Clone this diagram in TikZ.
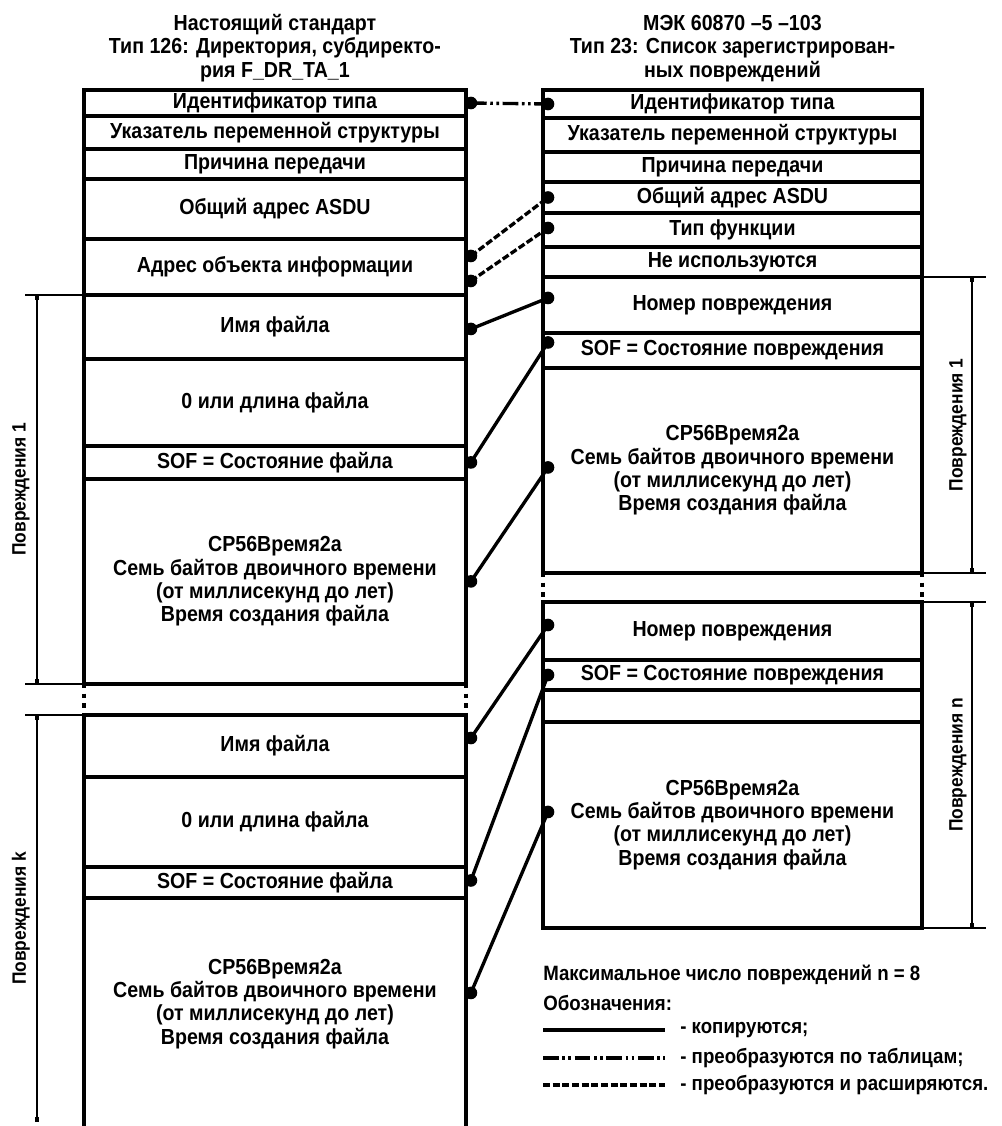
\documentclass[tikz,border=0pt]{standalone}
\usepackage{fontspec}
\setmainfont{Liberation Sans}[FakeStretch=0.9]
\usetikzlibrary{arrows.meta, positioning, calc}

\begin{document}
\begin{tikzpicture}[
            x=0.02cm, y=-0.02cm,
            font=\fontsize{12.4}{13.3}\selectfont\bfseries,
            cell/.style   ={draw, line width=2pt, anchor=north west, inner sep=1pt,
                            outer sep=0pt, align=center},
            lcell/.style  ={cell, minimum width=7.64cm},
            rcell/.style  ={cell, minimum width=7.58cm},
            head/.style   ={align=center, anchor=south, inner sep=0pt},
            link/.style   ={line width=1.9pt},
            tabl/.style   ={link, dash pattern=on 9pt off 2pt on 1.5pt off 2pt on 1.5pt off 2pt},
            wide/.style   ={link, dash pattern=on 4pt off 1.5pt},
            jdot/.style   ={fill=black},
            extln/.style  ={line width=1.2pt},
            dimln/.style  ={line width=1.2pt, {Square[length=3pt,width=2.6pt]}-{Square[length=3pt,width=2.6pt]}},
            dimlbl/.style ={rotate=90, inner sep=0pt, font=\fontsize{11}{12}\selectfont\bfseries},
            gapln/.style  ={line width=2pt, dash pattern=on 2.5pt off 3pt},
            legtxt/.style ={anchor=west, inner sep=0pt, font=\fontsize{11.8}{13}\selectfont\bfseries}
        ]
        \useasboundingbox (0,0) rectangle (1001,1126);

        % left column: F_DR_TA_1
        \node[lcell, minimum height=0.52cm] (L1) at (84,90) {Идентификатор типа};
        \node[lcell, minimum height=0.66cm] (L2) at (L1.south west) {Указатель переменной структуры};
        \node[lcell, minimum height=0.60cm] (L3) at (L2.south west) {Причина передачи};
        \node[lcell, minimum height=1.20cm] (L4) at (L3.south west) {Общий адрес ASDU};
        \node[lcell, minimum height=1.12cm] (L5) at (L4.south west) {Адрес объекта информации};
        \node[lcell, minimum height=1.28cm] (L6) at (L5.south west) {Имя файла};
        \node[lcell, minimum height=1.74cm] (L7) at (L6.south west) {0 или длина файла};
        \node[lcell, minimum height=0.66cm] (L8) at (L7.south west) {SOF = Состояние файла};
        \node[lcell, minimum height=4.10cm] (L9) at (L8.south west)
              {CP56Время2а\\Семь байтов двоичного времени\\(от миллисекунд до лет)\\Время создания файла};

        \node[lcell, minimum height=1.24cm] (L10) at (84,715) {Имя файла};
        \node[lcell, minimum height=1.80cm] (L11) at (L10.south west) {0 или длина файла};
        \node[lcell, minimum height=0.62cm] (L12) at (L11.south west) {SOF = Состояние файла};
        \node[lcell, draw=none, minimum height=4.24cm] (L13) at (L12.south west)
              {CP56Время2а\\Семь байтов двоичного времени\\(от миллисекунд до лет)\\Время создания файла};
        % last block runs on past the page
        \draw[line width=2pt] (L13.north west) -- ($(L13.south west)+(0,20)$)
                              (L13.north east) -- ($(L13.south east)+(0,20)$);

        \node[head] (TL) at ($(L1.north)+(0,-8)$)
              {Настоящий стандарт\\Тип 126: Директория, субдиректо-\\рия F\_DR\_TA\_1};

        % right column: type 23
        \node[rcell, minimum height=0.56cm] (R1) at (543,90) {Идентификатор типа};
        \node[rcell, minimum height=0.68cm] (R2) at (R1.south west) {Указатель переменной структуры};
        \node[rcell, minimum height=0.60cm] (R3) at (R2.south west) {Причина передачи};
        \node[rcell, minimum height=0.62cm] (R4) at (R3.south west) {Общий адрес ASDU};
        \node[rcell, minimum height=0.68cm] (R5) at (R4.south west) {Тип функции};
        \node[rcell, minimum height=0.60cm] (R6) at (R5.south west) {Не используются};
        \node[rcell, minimum height=1.12cm] (R7) at (R6.south west) {Номер повреждения};
        \node[rcell, minimum height=0.70cm] (R8) at (R7.south west) {SOF = Состояние повреждения};
        \node[rcell, minimum height=4.10cm] (R9) at (R8.south west)
              {CP56Время2а\\Семь байтов двоичного времени\\(от миллисекунд до лет)\\Время создания файла};

        \node[rcell, minimum height=1.16cm] (R10) at (543,602) {Номер повреждения};
        \node[rcell, minimum height=0.60cm] (R11) at (R10.south west) {SOF = Состояние повреждения};
        \node[rcell, minimum height=0.64cm] (R12) at (R11.south west) {};
        \node[rcell, minimum height=4.12cm] (R13) at (R12.south west)
              {CP56Время2а\\Семь байтов двоичного времени\\(от миллисекунд до лет)\\Время создания файла};

        \node[head] (TR) at ($(R1.north)+(0,-8)$)
              {МЭК 60870 –5 –103\\Тип 23: Список зарегистрирован-\\ных повреждений};

        % breaks between repeated blocks
        \draw[gapln] (L9.south west) -- (L10.north west)
                     (L9.south east) -- (L10.north east)
                     (R9.south west) -- (R10.north west)
                     (R9.south east) -- (R10.north east);

        % dimension lines
        \draw[extln] ($(L6.north west)+(-59,0)$) -- (L6.north west)
                     ($(L9.south west)+(-59,0)$) -- (L9.south west)
                     ($(L10.north west)+(-59,0)$) -- (L10.north west);
        \draw[dimln] ($(L6.north west)+(-47,0)$) -- ($(L9.south west)+(-47,0)$);
        \draw[dimln] ($(L10.north west)+(-47,0)$) -- ($(L13.south west)+(-47,12)$);
        \node[dimlbl] (DL1) at ($(L6.north west)!0.5!(L9.south west)+(-63,0)$) {Повреждения 1};
        \node[dimlbl] (DLk) at ($(L10.north west)!0.5!(L13.south west)+(-63,6)$) {Повреждения k};

        \draw[extln] (R7.north east) -- ($(R7.north east)+(64,0)$)
                     (R9.south east) -- ($(R9.south east)+(64,0)$)
                     (R10.north east) -- ($(R10.north east)+(64,0)$)
                     (R13.south east) -- ($(R13.south east)+(64,0)$);
        \draw[dimln] ($(R7.north east)+(50,0)$) -- ($(R9.south east)+(50,0)$);
        \draw[dimln] ($(R10.north east)+(50,0)$) -- ($(R13.south east)+(50,0)$);
        \node[dimlbl] (DR1) at ($(R7.north east)!0.5!(R9.south east)+(36,0)$) {Повреждения 1};
        \node[dimlbl] (DRn) at ($(R10.north east)!0.5!(R13.south east)+(36,0)$) {Повреждения n};

        % link ends
        \coordinate (a1) at ($(L1.east)+(5,0)$);
        \coordinate (b1) at ($(R1.west)+(5,0)$);
        \coordinate (a2) at ($(L5.east)+(5,-11)$);
        \coordinate (b2) at ($(R4.west)+(5,0)$);
        \coordinate (a3) at ($(L5.east)+(5,14)$);
        \coordinate (b3) at ($(R5.west)+(5,-2)$);
        \coordinate (a4) at ($(L6.east)+(5,2)$);
        \coordinate (b4) at ($(R7.west)+(5,-7)$);
        \coordinate (a5) at ($(L8.east)+(5,0)$);
        \coordinate (b5) at ($(R8.west)+(5,-8)$);
        \coordinate (a6) at ($(L9.east)+(5,0)$);
        \coordinate (b6) at ($(R9.west)+(5,-3)$);
        \coordinate (a7) at ($(L10.east)+(5,-8)$);
        \coordinate (b7) at ($(R10.west)+(5,-6)$);
        \coordinate (a8) at ($(L12.east)+(5,-2)$);
        \coordinate (b8) at ($(R11.west)+(5,0)$);
        \coordinate (a9) at ($(L13.east)+(5,-11)$);
        \coordinate (b9) at ($(R13.west)+(5,-13)$);

        \draw[tabl] (a1) -- (b1);
        \draw[wide] (a2) -- (b2);
        \draw[wide] (a3) -- (b3);
        \foreach \p in {4,...,9}{\draw[link] (a\p) -- (b\p);}
        \foreach \p in {1,...,9}{\fill[jdot] (a\p) circle (3.6pt); \fill[jdot] (b\p) circle (3.6pt);}

        % notes and key
        \node[legtxt] (maxn) at (543,975) {Максимальное число повреждений n = 8};
        \node[legtxt] (oboz) at (543,1003) {Обозначения:};
        \coordinate (k1a) at (543,1030); \coordinate (k1b) at (665,1030);
        \coordinate (k2a) at (543,1058); \coordinate (k2b) at (665,1058);
        \coordinate (k3a) at (543,1085); \coordinate (k3b) at (665,1085);
        \draw[link, line width=2pt] (k1a) -- (k1b);
        \draw[tabl, line width=2pt] (k2a) -- (k2b);
        \draw[wide, line width=2pt] (k3a) -- (k3b);
        \node[legtxt] (k1t) at (680,1030) {- копируются;};
        \node[legtxt] (k2t) at (680,1058) {- преобразуются по таблицам;};
        \node[legtxt] (k3t) at (680,1085) {- преобразуются и расширяются.};

    \end{tikzpicture}
\end{document}
